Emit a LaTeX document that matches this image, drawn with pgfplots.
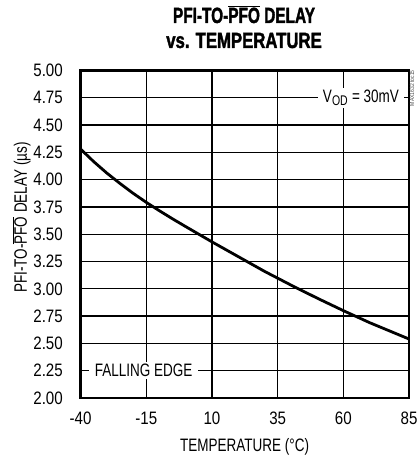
\documentclass[border=0pt]{standalone}
\usepackage{pgfplots}
\pgfplotsset{compat=1.18}
\usepackage{fontspec}
\setmainfont{Liberation Sans}[FakeStretch=0.84]
\newfontfamily\lblfont{Liberation Sans}[FakeStretch=0.75]
\newfontfamily\ttlfont{Liberation Sans Bold}[FakeStretch=0.70, FakeBold=1.6]
\newfontfamily\ttlfontb{Liberation Sans Bold}[FakeStretch=0.76, FakeBold=1.6]
\newcommand\ovl[1]{$\overline{\hbox{#1}}$}
\begin{document}
\begin{tikzpicture}
\useasboundingbox (-80.6bp,-61bp) rectangle (336.4bp,398bp);
\begin{axis}[
  at={(0,0)}, anchor=south west,
  scale only axis, width=328.5bp, height=327.5bp,
  xmin=-40, xmax=85, ymin=2, ymax=5,
  xtick={-40,-15,10,35,60,85},
  xticklabels={-40,-15,10,35,60,85},
  ytick={2,2.25,2.5,2.75,3,3.25,3.5,3.75,4,4.25,4.5,4.75,5},
  yticklabels={2.00,2.25,2.50,2.75,3.00,3.25,3.50,3.75,4.00,4.25,4.50,4.75,5.00},
  tick style={draw=none},
  xmajorgrids=true, ymajorgrids=true,
  major grid style={draw=black, line width=1.3bp},
  axis line style={line width=2.8bp},
  tick label style={font=\fontsize{18bp}{20bp}\selectfont, inner sep=0pt},
  xticklabel style={anchor=base, yshift=-26bp},
  yticklabel style={anchor=east, xshift=-17.6bp},
  clip=false,
]
\addplot[black, line width=2.8bp, line join=round] coordinates {
(-40,4.28) (-35,4.165) (-30,4.06) (-25,3.965) (-20,3.875) (-15,3.792) (-10,3.715)
(-5,3.641) (0,3.57) (5,3.5) (10,3.43) (20,3.295) (30,3.16) (40,3.035)
(50,2.915) (60,2.80) (70,2.69) (85,2.54)};
\node[fill=white, inner xsep=5bp, inner ysep=2bp, anchor=east,
  font=\lblfont\fontsize{18bp}{20bp}\selectfont] at (axis cs:83.1,4.75)
  {V\textsubscript{\fontsize{14bp}{14bp}\selectfont OD} = 30mV};
\node[fill=white, inner xsep=6bp, inner ysep=2bp, anchor=west,
  font=\lblfont\fontsize{18bp}{20bp}\selectfont] at (axis cs:-36.9,2.25)
  {FALLING EDGE};
\end{axis}
\node[anchor=base, font=\ttlfont\fontsize{22bp}{24bp}\selectfont] at (163.4bp,375bp) {PFI-TO-\ovl{PFO} DELAY};
\node[anchor=base, font=\ttlfontb\fontsize{22bp}{24bp}\selectfont] at (163.4bp,350bp) {vs. TEMPERATURE};
\node[anchor=base, font=\lblfont\fontsize{18bp}{20bp}\selectfont] at (164bp,-53bp) {TEMPERATURE (°C)};
\node[anchor=base, rotate=90, font=\lblfont\fontsize{18bp}{20bp}\selectfont] at (-53.6bp,180.5bp) {PFI-TO-\ovl{PFO} DELAY (µs)};
\node[anchor=east, rotate=90, inner sep=0pt, text=black!70, font=\fontsize{6bp}{6bp}\selectfont] at (331.4bp,328bp) {MAX1632 toc15};
\end{tikzpicture}
\end{document}
